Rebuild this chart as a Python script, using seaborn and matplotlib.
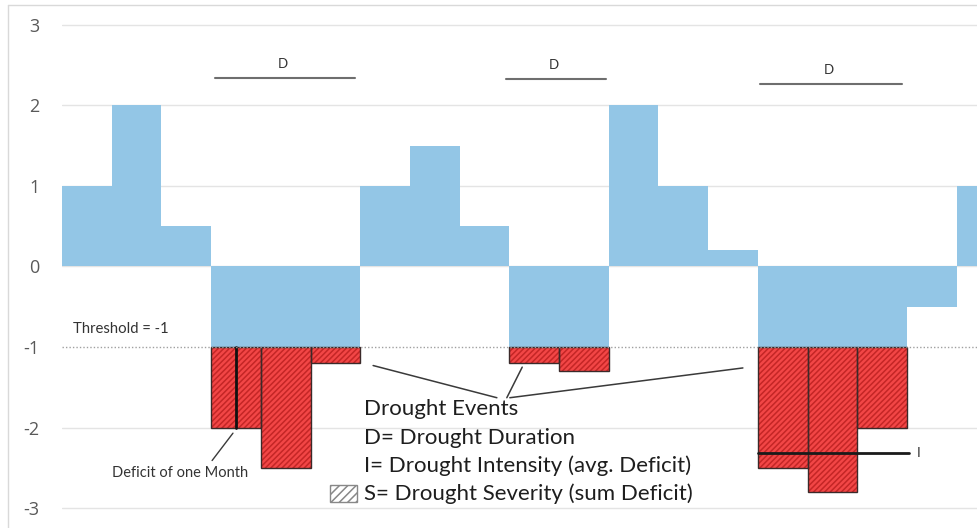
import numpy as np
import pandas as pd
import matplotlib
matplotlib.use("Agg")
import matplotlib.pyplot as plt
import seaborn as sns
from matplotlib.patches import Rectangle
from matplotlib.lines import Line2D

# monthly index values (SPI-like), one bar per month
months = list(range(19))
values = [1, 2, 0.5, -2, -2.5, -1.2, 1, 1.5, 0.5, -1.2, -1.3, 2, 1, 0.2, -2.5, -2.8, -2, -0.5, 1]
threshold = -1
y_ticks = [-3, -2, -1, 0, 1, 2, 3]

# drought events: (first month, last month)
events = [(3, 5), (9, 10), (14, 16)]
intensity_level = -2.32

legend_lines = ["Drought Events", "D= Drought Duration",
                "I= Drought Intensity (avg. Deficit)", "S= Drought Severity (sum Deficit)"]

BLUE = "#93c6e6"
RED = "#f24646"
HATCH_RED = "#c42626"

sns.set_theme(style="white")
plt.rcParams["font.family"] = ["Lato", "DejaVu Sans"]
plt.rcParams["hatch.linewidth"] = 1.1

df = pd.DataFrame({"month": months, "value": values})
df["center"] = df["month"] + 0.5
df["upper"] = df["value"].clip(lower=threshold)
deficit = df[df["value"] < threshold]

fig = plt.figure(figsize=(9.77, 5.28), dpi=100)
ax = fig.add_axes([62 / 977, 0, 915 / 977, 1])

# gridlines
for t in y_ticks:
    if t != threshold:
        ax.axhline(t, color="#e4e4e4", lw=1, zorder=0)

# red deficit bars (full depth), blue drawn over the 0..threshold part
sns.barplot(data=deficit, x="center", y="value", native_scale=True, width=1,
            color=RED, saturation=1, hatch="//////", edgecolor=HATCH_RED,
            linewidth=0, ax=ax, zorder=2)
sns.barplot(data=df, x="center", y="upper", native_scale=True, width=1,
            color=BLUE, saturation=1, linewidth=0, ax=ax, zorder=3)

# dark outline of deficit part
ax.bar(deficit["month"], deficit["value"] - threshold, bottom=threshold, width=1,
       align="edge", fill=False, edgecolor="#3b2a2a", linewidth=1.0, zorder=4)
# one month deficit marker
ax.plot([3.5, 3.5], [threshold, -2], color="#111111", lw=2, zorder=5)

# threshold line
ax.axhline(threshold, color="#a0a0a0", lw=1, ls=(0, (1, 1.5)), zorder=5)
ax.text(0.22, -0.83, "Threshold = -1", fontsize=10.7, color="#333333", va="baseline")

# duration bars
d_levels = [2.34, 2.33, 2.27]
d_spans = [(3.08, 5.9), (8.93, 10.95), (14.04, 16.9)]
for (x0, x1), yl in zip(d_spans, d_levels):
    ax.plot([x0, x1], [yl, yl], color="#6e6e6e", lw=1.5)
    ax.text((x0 + x1) / 2 - 0.05, yl + 0.1, "D", fontsize=9.5, color="#333333",
            ha="center", va="bottom")

# intensity line
ax.plot([14.0, 17.05], [intensity_level, intensity_level], color="#1a1a1a", lw=2, zorder=6)
ax.text(17.2, intensity_level, "I", fontsize=10, color="#333333", va="center")

# pointer lines to "Drought Events"
for (xs, ys), (xe, ye) in [((6.26, -1.23), (8.75, -1.63)),
                           ((9.26, -1.25), (8.95, -1.63)),
                           ((13.7, -1.26), (9.01, -1.63))]:
    ax.plot([xs, xe], [ys, ye], color="#3a3a3a", lw=1.1)

ax.plot([3.44, 3.02], [-2.07, -2.41], color="#3a3a3a", lw=1)
ax.text(1.0, -2.62, "Deficit of one Month", fontsize=10.5, color="#333333", va="baseline")

for i, line in enumerate(legend_lines):
    ax.text(6.08, -1.85 - 0.352 * i, line, fontsize=16, color="#1e1e1e", va="baseline")
ax.add_patch(Rectangle((5.39, -2.93), 0.54, 0.22, facecolor="white", edgecolor="#888888",
                       hatch="////", lw=1, zorder=6))

ax.set_xlim(0, 915 / 49.7)
ax.set_ylim(-3.248, 3.31)
ax.set_yticks(y_ticks)
ax.set_yticklabels([str(t) for t in y_ticks], fontsize=13, color="#595959",
                   family=["Open Sans", "DejaVu Sans"])
ax.tick_params(axis="y", length=0, pad=16)
ax.set_xticks([])
ax.set_xlabel("")
ax.set_ylabel("")
for s in ax.spines.values():
    s.set_visible(False)

# outer frame
fig.add_artist(Line2D([8 / 977, 8 / 977], [0, 1 - 5 / 528], color="#d9d9d9", lw=1))
fig.add_artist(Line2D([8 / 977, 1], [1 - 5 / 528, 1 - 5 / 528], color="#d9d9d9", lw=1))

fig.savefig("out.png", dpi=100)
